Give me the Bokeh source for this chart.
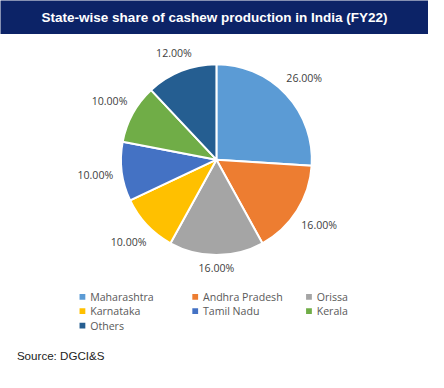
import math
from bokeh.plotting import figure
from bokeh.models import Range1d, ColumnDataSource
from bokeh.core.properties import value
from bokeh.embed import file_html
from bokeh.resources import INLINE

# ---- data ----
states = ["Maharashtra", "Andhra Pradesh", "Orissa", "Karnataka", "Tamil Nadu", "Kerala", "Others"]
shares = [26.0, 16.0, 16.0, 10.0, 10.0, 10.0, 12.0]
colors = ["#5B9BD5", "#ED7D31", "#A5A5A5", "#FFC000", "#4472C4", "#70AD47", "#255E91"]
title_text = "State-wise share of cashew production in India (FY22)"
source_text = "Source: DGCI&S"

W, H = 428, 372
RW, RH = 444, 388          # design canvas, scaled into the figure
k = W / RW                 # font scale

p = figure(width=W, height=H, output_backend="svg", toolbar_location=None,
           x_range=Range1d(0, RW), y_range=Range1d(0, RH),
           min_border=0, outline_line_color=None)
p.axis.visible = False
p.grid.visible = False
p.background_fill_color = "white"
p.border_fill_color = "white"

def Y(py):
    return RH - py

def fs(px):
    return f"{px * k:.1f}px"

# title bar
p.quad(left=-5, right=RW + 5, top=RH + 5, bottom=Y(35), fill_color="#0C2367", line_color=None)
p.text(x=[222], y=[Y(18)], text=[title_text], text_color="white",
       text_font=value("Liberation Sans"), text_font_style="bold", text_font_size=fs(14),
       text_align="center", text_baseline="middle")

# pie
cx, cy, R = 224, Y(166), 99
total = sum(shares)
starts, ends, mids = [], [], []
cum = 0.0
for v in shares:
    a0 = math.pi / 2 - 2 * math.pi * cum / total
    cum += v
    a1 = math.pi / 2 - 2 * math.pi * cum / total
    starts.append(a0)
    ends.append(a1)
    mids.append((a0 + a1) / 2)

src = ColumnDataSource(dict(start=starts, end=ends, color=colors))
p.wedge(x=cx, y=cy, radius=R, start_angle="start", end_angle="end", direction="clock",
        fill_color="color", line_color="white", line_width=2, source=src)

lx, ly, lt = [], [], []
for v, m in zip(shares, mids):
    c, s = math.cos(m), math.sin(m)
    r = R + 8 + 19 * abs(c) + 6 * abs(s)
    lx.append(cx + r * c)
    ly.append(cy + r * s)
    lt.append(f"{v:.2f}%")
p.text(x=lx, y=ly, text=lt, text_color="#404040", text_font=value("Open Sans"),
       text_font_size=fs(11), text_align="center", text_baseline="middle")

# legend
col_x = [85, 202, 320]
row_y0, row_dy = 309, 15
mx, my, tx, ty = [], [], [], []
for i, name in enumerate(states):
    col, row = i % 3, i // 3
    mx.append(col_x[col])
    my.append(Y(row_y0 + row * row_dy))
    tx.append(col_x[col] + 8)
    ty.append(Y(row_y0 + row * row_dy))
p.rect(x=mx, y=my, width=6, height=6, fill_color=colors, line_color=None)
p.text(x=tx, y=ty, text=states, text_color="#595959", text_font=value("Open Sans"),
       text_font_size=fs(11), text_align="left", text_baseline="middle")

# source
p.text(x=[17], y=[Y(370)], text=[source_text], text_color="#222222",
       text_font=value("Liberation Sans"), text_font_size=fs(12),
       text_align="left", text_baseline="middle")

open("out.html", "w").write(file_html(p, INLINE))
